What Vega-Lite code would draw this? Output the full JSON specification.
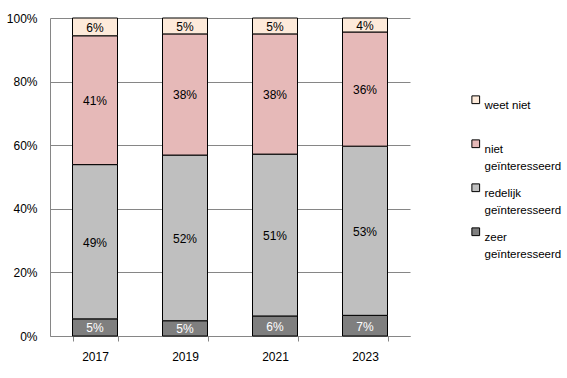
{
  "$schema": "https://vega.github.io/schema/vega-lite/v6.json",
  "width": 360,
  "height": 318,
  "autosize": {"type": "none"},
  "padding": {"left": 50, "top": 18, "right": 157, "bottom": 42},
  "background": "white",
  "config": {
    "view": {"stroke": null},
    "font": "Liberation Sans",
    "axis": {"labelFont": "Liberation Sans", "labelFontSize": 12, "labelColor": "#000000"},
    "legend": {"labelFont": "Liberation Sans", "labelFontSize": 11.5, "labelColor": "#000000"}
  },
  "data": {
    "values": [
      {"year": "2017", "cat": "zeer geïnteresseerd", "pct": 5.4},
      {"year": "2017", "cat": "redelijk geïnteresseerd", "pct": 48.6},
      {"year": "2017", "cat": "niet geïnteresseerd", "pct": 40.6},
      {"year": "2017", "cat": "weet niet", "pct": 5.6},
      {"year": "2019", "cat": "zeer geïnteresseerd", "pct": 4.8},
      {"year": "2019", "cat": "redelijk geïnteresseerd", "pct": 52.1},
      {"year": "2019", "cat": "niet geïnteresseerd", "pct": 38.1},
      {"year": "2019", "cat": "weet niet", "pct": 5.0},
      {"year": "2021", "cat": "zeer geïnteresseerd", "pct": 6.3},
      {"year": "2021", "cat": "redelijk geïnteresseerd", "pct": 50.9},
      {"year": "2021", "cat": "niet geïnteresseerd", "pct": 37.8},
      {"year": "2021", "cat": "weet niet", "pct": 5.0},
      {"year": "2023", "cat": "zeer geïnteresseerd", "pct": 6.5},
      {"year": "2023", "cat": "redelijk geïnteresseerd", "pct": 53.2},
      {"year": "2023", "cat": "niet geïnteresseerd", "pct": 35.9},
      {"year": "2023", "cat": "weet niet", "pct": 4.4}
    ]
  },
  "transform": [
    {"calculate": "indexof(['zeer geïnteresseerd','redelijk geïnteresseerd','niet geïnteresseerd','weet niet'], datum.cat)", "as": "ord"},
    {"stack": "pct", "groupby": ["year"], "sort": [{"field": "ord", "order": "ascending"}], "offset": "normalize", "as": ["y0", "y1"]},
    {"calculate": "(datum.y0 + datum.y1) / 2", "as": "ymid"},
    {"calculate": "format(datum.pct, '.0f') + '%'", "as": "label"}
  ],
  "encoding": {
    "x": {
      "field": "year",
      "type": "nominal",
      "title": null,
      "scale": {"paddingInner": 0.5, "paddingOuter": 0.25},
      "axis": {
        "labelAngle": 0,
        "domainColor": "#868686",
        "tickColor": "#868686",
        "tickBand": "extent",
        "tickSize": 5,
        "labelPadding": 10,
        "grid": false
      }
    }
  },
  "layer": [
    {
      "mark": {"type": "bar", "stroke": "#000000", "strokeWidth": 1},
      "encoding": {
        "y": {
          "field": "y0",
          "type": "quantitative",
          "title": null,
          "scale": {"domain": [0, 1]},
          "axis": {
            "values": [0, 0.2, 0.4, 0.6, 0.8, 1],
            "format": ".0%",
            "ticks": false,
            "labelPadding": 13,
            "domainColor": "#868686",
            "gridColor": "#868686",
            "gridOpacity": 1
          }
        },
        "y2": {"field": "y1"},
        "color": {
          "field": "cat",
          "type": "nominal",
          "title": null,
          "scale": {
            "domain": ["weet niet", "niet geïnteresseerd", "redelijk geïnteresseerd", "zeer geïnteresseerd"],
            "range": ["#FDEADA", "#E6B9B8", "#BFBFBF", "#7F7F7F"]
          },
          "legend": {
            "orient": "none",
            "legendX": 420,
            "legendY": 76,
            "symbolType": "square",
            "symbolSize": 60,
            "symbolStrokeColor": "#000000",
            "symbolStrokeWidth": 1,
            "symbolOpacity": 1,
            "rowPadding": 8,
            "labelOffset": 3,
            "labelBaseline": "top",
            "labelExpr": "datum.label == 'weet niet' ? ['weet niet', ' '] : split(datum.label, ' ')",
            "encode": {"labels": {"update": {"lineHeight": {"value": 17}}}}
          }
        }
      }
    },
    {
      "mark": {"type": "text", "fontSize": 12, "font": "Liberation Sans", "dy": 1},
      "encoding": {
        "y": {"field": "ymid", "type": "quantitative"},
        "text": {"field": "label"},
        "color": {
          "condition": {"test": "datum.cat === 'zeer geïnteresseerd'", "value": "#FFFFFF"},
          "value": "#000000"
        }
      }
    }
  ]
}
